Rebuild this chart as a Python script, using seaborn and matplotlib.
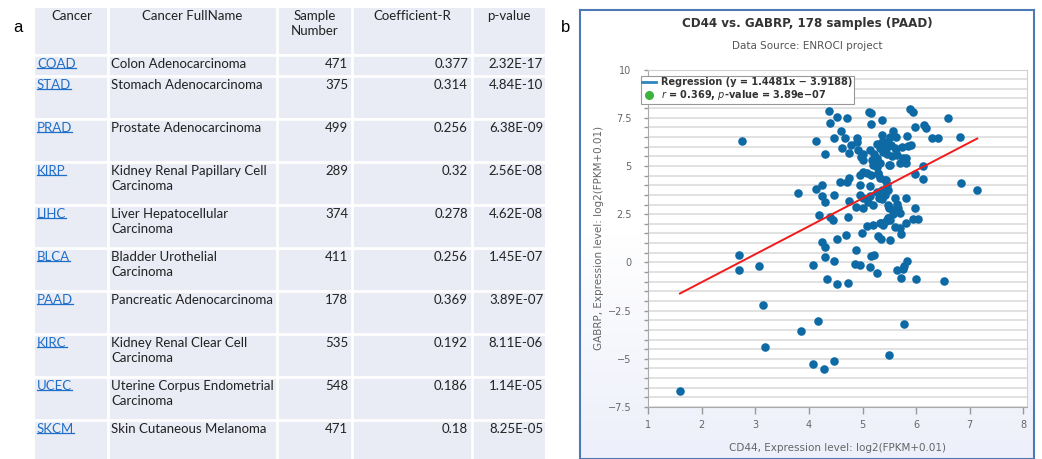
import textwrap
import numpy as np
import pandas as pd
import seaborn as sns
import matplotlib.pyplot as plt
from matplotlib.lines import Line2D
from matplotlib.ticker import MultipleLocator, FuncFormatter

# ---- table data (panel a) ----
headers = ['Cancer', 'Cancer FullName', 'Sample\nNumber', 'Coefficient-R', 'p-value']
codes = ['COAD', 'STAD', 'PRAD', 'KIRP', 'LIHC', 'BLCA', 'PAAD', 'KIRC', 'UCEC', 'SKCM']
full_names = ['Colon Adenocarcinoma', 'Stomach Adenocarcinoma', 'Prostate Adenocarcinoma',
              'Kidney Renal Papillary Cell Carcinoma', 'Liver Hepatocellular Carcinoma',
              'Bladder Urothelial Carcinoma', 'Pancreatic Adenocarcinoma',
              'Kidney Renal Clear Cell Carcinoma', 'Uterine Corpus Endometrial Carcinoma',
              'Skin Cutaneous Melanoma']
sample_n = [471, 375, 499, 289, 374, 411, 178, 535, 548, 471]
coef_r = ['0.377', '0.314', '0.256', '0.32', '0.278', '0.256', '0.369', '0.192', '0.186', '0.18']
p_values = ['2.32E-17', '4.84E-10', '6.38E-09', '2.56E-08', '4.62E-08',
            '1.45E-07', '3.89E-07', '8.11E-06', '1.14E-05', '8.25E-05']

# ---- scatter data (panel b) ----
cd44 = [2.74, 3.79, 2.70, 2.69, 3.07, 3.14, 3.85, 3.17, 1.59, 4.13, 4.13, 4.17, 4.08, 4.28, 4.47,
        5.50, 5.77,
        4.25, 4.29, 4.52, 4.69, 4.98, 5.29, 5.34, 5.51, 5.72, 4.87, 5.16, 5.22, 4.30, 4.47, 4.07,
        4.85, 4.96, 5.13, 5.27, 5.64, 5.75, 5.77, 5.82, 5.72, 6.00, 6.52, 4.34, 4.52, 4.73,
        4.25, 4.24, 4.30, 4.47, 4.57, 4.70, 4.75, 4.75, 4.19, 4.40, 4.44, 4.73, 4.87, 4.95, 5.01,
        5.01, 4.96, 4.96, 5.08, 5.15, 5.14, 5.14, 5.20, 5.29, 5.32, 5.36, 5.32, 5.26, 5.42, 5.46,
        5.48, 5.36, 5.42, 5.60, 5.64, 5.48, 5.50, 5.57, 5.67, 5.70, 5.56, 5.48, 5.44, 5.32, 5.19,
        5.08, 5.39, 5.51, 5.60, 5.70, 5.81, 5.81, 5.98, 5.95, 6.04, 5.97, 6.12, 6.13, 6.84, 7.14,
        5.01, 5.26, 5.51, 5.11,
        4.37, 4.53, 4.70, 4.39, 5.12, 5.15, 5.37, 5.16, 5.89, 5.95, 6.59, 5.98, 6.15, 6.18, 5.57,
        4.59, 5.62, 4.89, 4.89, 5.82, 6.29, 6.40, 6.82, 4.47, 4.67, 5.36, 5.51, 5.36, 5.27, 5.44,
        5.53, 4.78, 4.61, 4.75, 4.29, 4.92, 5.01, 5.01, 5.14, 5.21, 5.32, 5.39, 5.46, 5.60, 5.73,
        5.85, 5.90, 5.45, 5.54, 5.64, 5.75, 5.81, 5.70, 5.81, 5.17, 5.26, 5.20, 5.32, 5.50, 4.97,
        5.28, 5.43, 5.30, 5.50, 5.58, 5.34, 5.47, 5.62, 5.52]
gabrp = [6.30, 3.62, 0.40, -0.42, -0.20, -2.20, -3.55, -4.39, -6.66, 6.30, 3.81, -3.03, -5.27,
         -5.53, -5.09, -4.78, -3.20,
         1.05, 0.82, 1.22, 1.44, 1.51, 1.37, 1.22, 1.17, 1.46, 0.63, 0.34, 0.39, 0.27, 0.08, -0.13,
         -0.09, -0.13, -0.23, -0.56, -0.39, -0.35, -0.18, 0.08, -0.79, -0.87, -0.99, -0.85, -1.11,
         -1.08,
         4.02, 3.45, 3.15, 3.48, 4.16, 4.19, 4.39, 3.19, 2.46, 2.37, 2.20, 2.37, 2.89, 3.50, 3.33,
         2.81, 4.53, 4.02, 4.62, 4.53, 3.98, 3.46, 2.98, 4.62, 4.36, 3.76, 3.33, 3.67, 4.27, 4.02,
         3.76, 3.29, 3.50, 3.33, 3.02, 2.98, 2.84, 2.72, 2.81, 2.55, 2.50, 2.29, 2.15, 2.03, 1.94,
         1.91, 1.94, 2.20, 1.85, 1.77, 2.03, 3.36, 2.81, 2.24, 2.25, 4.57, 4.33, 5.02, 4.13, 3.76,
         4.71, 4.97, 5.05, 3.15,
         7.85, 7.54, 7.47, 7.21, 7.81, 7.73, 7.38, 7.16, 7.95, 7.78, 7.50, 7.00, 7.12, 6.95, 6.81,
         6.83, 6.52, 6.47, 6.26, 6.54, 6.43, 6.43, 6.52, 6.43, 6.43, 6.61, 6.52, 6.23, 6.12, 6.26,
         6.09, 6.09, 5.92, 5.66, 5.61, 5.83, 5.61, 5.31, 5.83, 5.61, 5.95, 5.74, 6.00, 5.92, 6.00,
         6.05, 6.09, 5.61, 5.53, 5.57, 5.43, 5.40, 5.14, 5.14, 5.31, 5.40, 5.05, 5.14, 5.05, 5.48,
         4.60, 4.25, 3.35, 2.86, 2.70, 2.05, 2.31, 5.90, 6.08]
slope, intercept = 1.4481, -3.9188
r_text, p_text = '0.369', '3.89e\u221207'

W, H = 1042, 459
plt.rcParams['font.family'] = ['DejaVu Sans']
fig = plt.figure(figsize=(W / 100, H / 100), dpi=100)

# ================= panel a: table =================
tfont = 'Lato'
col_edges = [35, 108, 277, 352, 472, 545]
row_heights = [47, 21] + [43] * 9
row_edges = np.concatenate([[8], 8 + np.cumsum(row_heights)])

tax = fig.add_axes([35 / W, 0, 510 / W, (H - 8) / H])
tax.set_xlim(35, 545)
tax.set_ylim(H, 8)
tax.set_facecolor('#E9ECF5')
tax.set_xticks([])
tax.set_yticks([])
for s in tax.spines.values():
    s.set_visible(False)
for y in row_edges[1:-1]:
    tax.axhline(y, color='white', lw=2)
for x in col_edges[1:-1]:
    tax.axvline(x, color='white', lw=2)

for j, h in enumerate(headers):
    tax.text((col_edges[j] + col_edges[j + 1]) / 2, 10, h, ha='center', va='top',
             fontsize=9.5, family=tfont, color='#222', linespacing=1.3)

code_texts = []
for i in range(len(codes)):
    top = row_edges[i + 1] + 3
    t = tax.text(col_edges[0] + 2, top, codes[i], ha='left', va='top',
                 fontsize=9.5, family=tfont, color='#1F6FC8')
    code_texts.append(t)
    tax.text(col_edges[1] + 3, top, textwrap.fill(full_names[i], 27), ha='left', va='top',
             fontsize=9.5, family=tfont, color='#222', linespacing=1.3)
    tax.text(col_edges[3] - 4, top, str(sample_n[i]), ha='right', va='top',
             fontsize=9.5, family=tfont, color='#222')
    tax.text(col_edges[4] - 4, top, coef_r[i], ha='right', va='top',
             fontsize=9.5, family=tfont, color='#222')
    tax.text(col_edges[5] - 2, top, p_values[i], ha='right', va='top',
             fontsize=9.5, family=tfont, color='#222')

fig.text(18 / W, 1 - 27 / H, 'a', fontsize=12, family='Liberation Sans', ha='center', va='center')
fig.text(566 / W, 1 - 27 / H, 'b', fontsize=12, family='Liberation Sans', ha='center', va='center')

# ================= panel b: scatter =================
bax = fig.add_axes([580 / W, 0, (1034 - 580) / W, (H - 10) / H], zorder=0)
grad = np.linspace(0, 1, 100)[:, None]
bax.imshow(grad, aspect='auto', cmap=sns.blend_palette(['#FFFFFF', '#FFFFFF', '#EDEFFA'], as_cmap=True),
           extent=[0, 1, 0, 1], origin='upper')
bax.set_xticks([])
bax.set_yticks([])
for s in bax.spines.values():
    s.set_color('#4F79B5')
    s.set_linewidth(1.5)

fig.text(807 / W, 1 - 24 / H, 'CD44 vs. GABRP, 178 samples (PAAD)', ha='center', va='center',
         fontsize=8.6, weight='bold', color='#333')
fig.text(807 / W, 1 - 46 / H, 'Data Source: ENROCI project', ha='center', va='center',
         fontsize=7.5, color='#555')

ax = fig.add_axes([648.3 / W, (H - 407) / H, (1027 - 648.3) / W, (407 - 69.5) / H], zorder=2)
ax.set_facecolor('white')
df = pd.DataFrame({'CD44': cd44, 'GABRP': gabrp})
sns.scatterplot(data=df, x='CD44', y='GABRP', color='#0E6AA5', s=38, linewidth=0, ax=ax, zorder=3)

reg = pd.DataFrame({'x': [df['CD44'].min(), df['CD44'].max()]})
reg['y'] = slope * reg['x'] + intercept
sns.lineplot(data=reg, x='x', y='y', color='#F21A1A', lw=1.4, ax=ax, zorder=4)

ax.set_xlim(1, 8.069)
ax.set_ylim(-7.5, 10)
ax.xaxis.set_major_locator(MultipleLocator(1))
ax.yaxis.set_major_locator(MultipleLocator(2.5))
ax.yaxis.set_minor_locator(MultipleLocator(0.5))
ax.yaxis.set_major_formatter(FuncFormatter(lambda v, pos: f'{v:g}'.replace('-', '\u2212')))
ax.set_axisbelow(True)
ax.yaxis.grid(True, which='both', color='#E1E1E1', lw=1.4)
ax.xaxis.grid(False)
ax.tick_params(axis='both', which='both', colors='#999', labelcolor='#666', labelsize=7)
ax.tick_params(axis='y', which='both', length=3, width=1, pad=9)
ax.tick_params(axis='x', which='major', length=5, width=1, pad=4)
ax.xaxis.set_major_formatter(FuncFormatter(lambda v, pos: f'{v:g}'))
for side in ['left', 'bottom']:
    ax.spines[side].set_color('#AAAAAA')
for side in ['top', 'right']:
    ax.spines[side].set_color('#D0D0D0')

ax.set_xlabel('CD44, Expression level: log2(FPKM+0.01)', fontsize=7.5, color='#666', labelpad=10)
ax.set_ylabel('GABRP, Expression level: log2(FPKM+0.01)', fontsize=7.5, color='#666')
ax.yaxis.set_label_coords(-0.118, 0.5)

handles = [Line2D([], [], color='#2E86C1', lw=2),
           Line2D([], [], marker='o', color='#3DB33D', ls='', markersize=5.5)]
labels = [f'Regression (y = {slope:.4f}x \u2212 {abs(intercept):.4f})',
          f'$r$ = {r_text}, $p$-value = {p_text}']
leg = fig.legend(handles, labels, loc='upper left', bbox_to_anchor=(641 / W, 1 - 76 / H),
                 frameon=True, fancybox=False, edgecolor='#999999', framealpha=1,
                 prop={'size': 7, 'weight': 'bold'}, borderpad=0.15, handlelength=1.4,
                 handletextpad=0.5, labelspacing=0.1, borderaxespad=0)
leg.get_frame().set_linewidth(0.8)
leg.set_zorder(5)
for t in leg.get_texts():
    t.set_color('#333')

# underline the cancer codes like links
fig.canvas.draw()
inv = tax.transData.inverted()
for t in code_texts:
    bb = t.get_window_extent()
    (x0, y0), (x1, _) = inv.transform([[bb.x0, bb.y0 + 1.5], [bb.x1, bb.y0 + 1.5]])
    tax.plot([x0, x1], [y0, y0], color='#1F6FC8', lw=0.9)

fig.savefig('out.png', dpi=100)
